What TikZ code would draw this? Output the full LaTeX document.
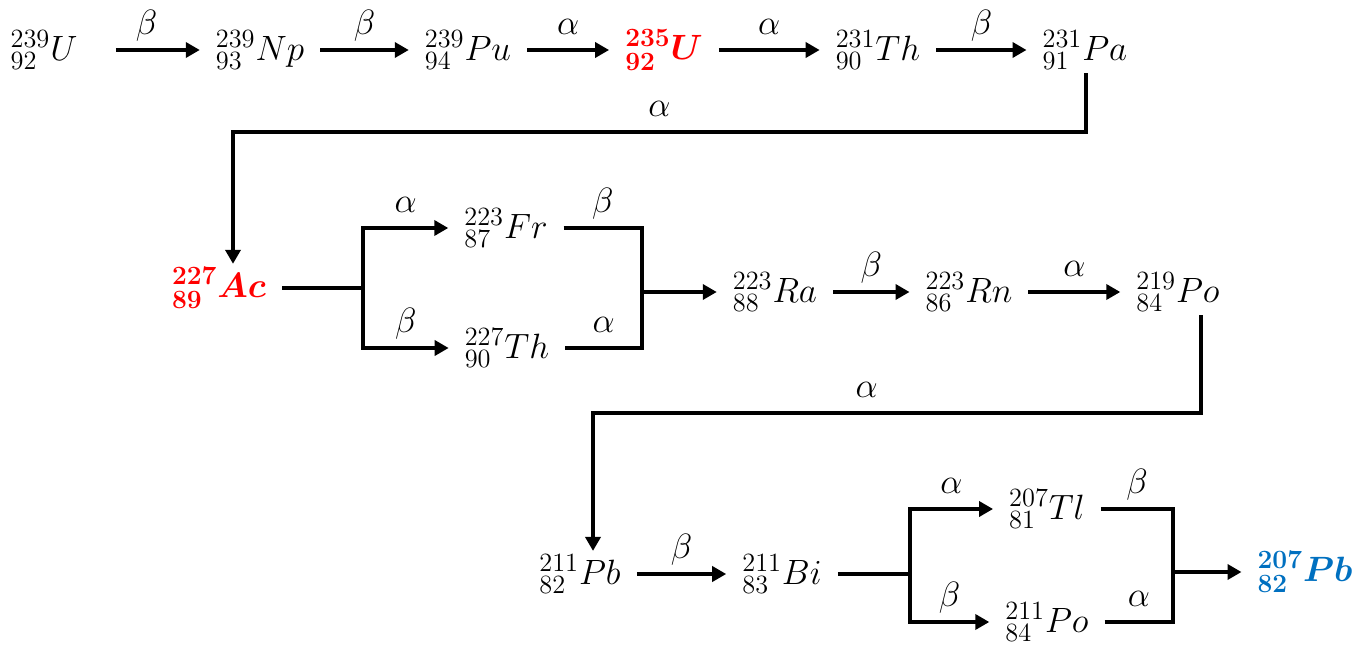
\documentclass[tikz,border=0pt]{standalone}
\usepackage{fix-cm}
\DeclareMathSizes{20}{20}{15}{11}
\usetikzlibrary{arrows.meta}
\definecolor{nucred}{RGB}{255,0,0}
\definecolor{nucblue}{RGB}{0,112,192}
\tikzset{
  nuc/.style={inner xsep=9pt, inner ysep=2pt},
  keynuc/.style={nuc, text=#1, execute at begin node=\boldmath},
  link/.style={line width=2.3pt},
  decay/.style={link, -{Triangle[length=0.28cm,width=0.3cm]}},
  lab/.style={anchor=base, yshift=9pt, inner sep=0pt},
}
\begin{document}
\begin{tikzpicture}[x=0.02cm, y=-0.02cm, font=\fontsize{20}{24}\selectfont]
  \useasboundingbox (0,0) rectangle (1366,645);
  % first row: 239U down to 231Pa
  \node[nuc] (U239) at (44,50) {${}^{239}_{92}U$};
  \node[nuc] (Np239) at (260,50) {${}^{239}_{93}Np$};
  \node[nuc] (Pu239) at (468,50) {${}^{239}_{94}Pu$};
  \node[keynuc=nucred] (U235) at (664,50) {${}^{235}_{92}U$};
  \node[nuc] (Th231) at (878,50) {${}^{231}_{90}Th$};
  \node[nuc] (Pa231) at (1085,50) {${}^{231}_{91}Pa$};
  \draw[decay, shorten <=0.45cm] (U239) -- node[lab] {$\beta$} (Np239);
  \draw[decay] (Np239) -- node[lab] {$\beta$} (Pu239);
  \draw[decay] (Pu239) -- node[lab] {$\alpha$} (U235);
  \draw[decay] (U235) -- node[lab] {$\alpha$} (Th231);
  \draw[decay] (Th231) -- node[lab] {$\beta$} (Pa231);
  % second row: 227Ac with its two branches
  \node[keynuc=nucred] (Ac227) at (219,288) {${}^{227}_{89}Ac$};
  \node[nuc] (Fr223) at (506,228) {${}^{223}_{87}Fr$};
  \node[nuc] (Th227) at (507,348) {${}^{227}_{90}Th$};
  \node[nuc] (Ra223) at (775,292) {${}^{223}_{88}Ra$};
  \node[nuc] (Rn223) at (969,292) {${}^{223}_{86}Rn$};
  \node[nuc] (Po219) at (1178,292) {${}^{219}_{84}Po$};
  \coordinate (paturn) at (1086,132);
  \coordinate (acturn) at (233,132);
  \draw[decay] (Pa231.south -| paturn) -- (paturn) -- node[lab] {$\alpha$} (acturn) -- (Ac227.north -| acturn);
  \coordinate (acfork) at (363,288);
  \coordinate (acjoin) at (642,292);
  \draw[link] (Ac227) -- (acfork);
  \draw[decay] (acfork) |- node[lab, pos=0.75] {$\alpha$} (Fr223);
  \draw[decay] (acfork) |- node[lab, pos=0.75] {$\beta$} (Th227);
  \draw[link] (Fr223) -| node[lab, pos=0.25] {$\beta$} (acjoin);
  \draw[link] (Th227) -| node[lab, pos=0.25] {$\alpha$} (acjoin);
  \draw[decay] (acjoin) -- (Ra223);
  \draw[decay] (Ra223) -- node[lab] {$\beta$} (Rn223);
  \draw[decay] (Rn223) -- node[lab] {$\alpha$} (Po219);
  % third row: 211Pb to 207Pb
  \node[nuc] (Pb211) at (580,574) {${}^{211}_{82}Pb$};
  \node[nuc] (Bi211) at (782,574) {${}^{211}_{83}Bi$};
  \node[nuc] (Tl207) at (1047,509) {${}^{207}_{81}Tl$};
  \node[nuc] (Po211) at (1047,622) {${}^{211}_{84}Po$};
  \node[keynuc=nucblue] (Pb207) at (1305,572) {${}^{207}_{82}Pb$};
  \coordinate (poturn) at (1201,413);
  \coordinate (pbturn) at (593,413);
  \draw[decay] (Po219.south -| poturn) -- (poturn) -- node[lab, pos=0.55] {$\alpha$} (pbturn) -- (Pb211.north -| pbturn);
  \draw[decay] (Pb211) -- node[lab] {$\beta$} (Bi211);
  \coordinate (bifork) at (910,574);
  \coordinate (bijoin) at (1173,572);
  \draw[link] (Bi211) -- (bifork);
  \draw[decay] (bifork) |- node[lab, pos=0.75] {$\alpha$} (Tl207);
  \draw[decay] (bifork) |- node[lab, pos=0.75] {$\beta$} (Po211);
  \draw[link] (Tl207) -| node[lab, pos=0.25] {$\beta$} (bijoin);
  \draw[link] (Po211) -| node[lab, pos=0.25] {$\alpha$} (bijoin);
  \draw[decay] (bijoin) -- (Pb207);
\end{tikzpicture}
\end{document}
